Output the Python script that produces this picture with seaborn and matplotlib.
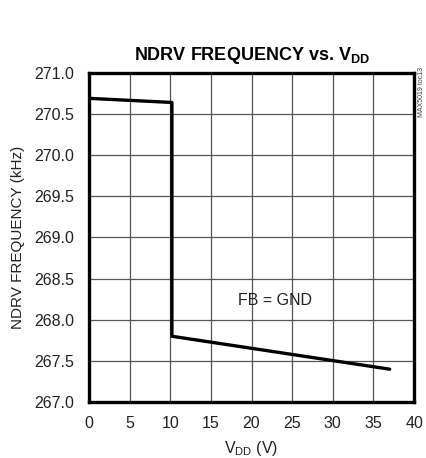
import matplotlib
matplotlib.use("Agg")
import matplotlib.pyplot as plt
import seaborn as sns
import pandas as pd

# data
vdd = [0.0, 10.2, 10.2, 37.0]
freq = [270.69, 270.64, 267.80, 267.40]
x_ticks = [0, 5, 10, 15, 20, 25, 30, 35, 40]
y_ticks = [267.0, 267.5, 268.0, 268.5, 269.0, 269.5, 270.0, 270.5, 271.0]

sns.set_theme(style="white")
plt.rcParams['font.family'] = ['Liberation Sans', 'DejaVu Sans']
plt.rcParams['mathtext.fontset'] = 'custom'
plt.rcParams['mathtext.rm'] = 'Liberation Sans'
plt.rcParams['mathtext.bf'] = 'Liberation Sans:bold'

df = pd.DataFrame({'VDD': vdd, 'FREQ': freq})

fig = plt.figure(figsize=(4.26, 4.58), dpi=100)
ax = fig.add_axes([0.209, 0.122, 0.763, 0.719])

sns.lineplot(data=df, x='VDD', y='FREQ', sort=False, estimator=None,
             color='black', linewidth=2.4, ax=ax)

ax.set_xlim(0, 40)
ax.set_ylim(267, 271)
ax.set_xticks(x_ticks)
ax.set_yticks(y_ticks)
ax.set_xticklabels([str(t) for t in x_ticks])
ax.set_yticklabels([f"{t:.1f}" for t in y_ticks])
ax.tick_params(axis='y', length=0, labelsize=11.5, colors='#222222', pad=11)
ax.tick_params(axis='x', length=0, labelsize=11.5, colors='#222222', pad=10)
ax.grid(True, color='#555555', linewidth=0.9)

for s in ax.spines.values():
    s.set_color('black')
    s.set_linewidth(2.4)

ax.set_xlabel(r"V$_{\mathrm{DD}}$ (V)", fontsize=11.5, color='#222222', labelpad=6)
ax.set_ylabel("NDRV FREQUENCY (kHz)", fontsize=11, color='#222222', labelpad=6)
ax.set_title(r"NDRV FREQUENCY vs. V$_{\mathbf{DD}}$", fontsize=13,
             fontweight='bold', color='black', pad=9)

ax.text(22.9, 268.24, "FB = GND", fontsize=11.5, color='#222222',
        ha='center', va='center')
fig.text(0.99, 0.745, "MAX5019 toc13", rotation=90, fontsize=5,
         color='#444444', ha='center', va='bottom')

fig.savefig("out.png", dpi=100)
